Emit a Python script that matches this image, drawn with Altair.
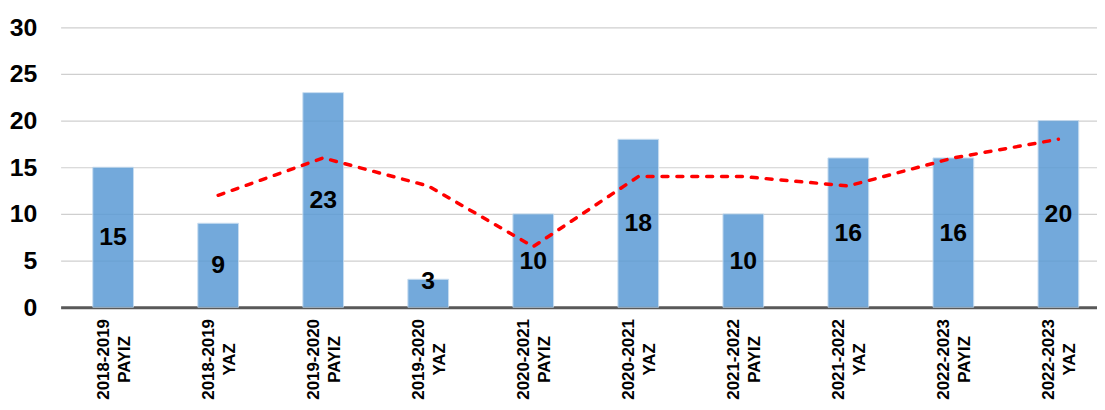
import altair as alt
import pandas as pd

years = ["2018-2019", "2018-2019", "2019-2020", "2019-2020", "2020-2021",
         "2020-2021", "2021-2022", "2021-2022", "2022-2023", "2022-2023"]
seasons = ["PAYIZ", "YAZ", "PAYIZ", "YAZ", "PAYIZ",
           "YAZ", "PAYIZ", "YAZ", "PAYIZ", "YAZ"]
values = [15, 9, 23, 3, 10, 18, 10, 16, 16, 20]
trend = [None, 12, 16, 13, 6.5, 14, 14, 13, 16, 18]

cats = [f"{y}|{s}" for y, s in zip(years, seasons)]
df = pd.DataFrame({"cat": cats, "value": values, "trend": trend})

FONT = "Liberation Sans"

x = alt.X(
    "cat:N", sort=cats,
    scale=alt.Scale(range=[0, 1058], paddingInner=0, paddingOuter=0),
    axis=alt.Axis(
        title=None, labelExpr="split(datum.label, '|')", labelAngle=270,
        labelAlign="center", labelBaseline="middle", labelPadding=52,
        labelOffset=-9.5,
        labelFont=FONT, labelFontSize=17, labelFontWeight="bold",
        labelColor="black", labelLineHeight=21, ticks=False,
        domainColor="#595959", domainWidth=3, grid=False,
    ),
)

y_axis = alt.Axis(
    values=[0, 5, 10, 15, 20, 25, 30], title=None, labelFont=FONT,
    labelFontSize=25, labelFontWeight="bold", labelColor="black",
    labelPadding=24, ticks=False, domain=False, gridColor="#cfcfcf",
    gridWidth=1.2,
)

base = alt.Chart(df)

bars = base.mark_bar(size=41, color="#5B9BD5", opacity=0.85,
                     stroke="#BDD7EE", strokeWidth=1).encode(
    x=x,
    y=alt.Y("value:Q", scale=alt.Scale(domain=[0, 30]), axis=y_axis),
)

line = base.mark_line(color="#FF0000", strokeWidth=3.5, strokeDash=[6, 9],
                      strokeCap="round").encode(
    x=x,
    y=alt.Y("trend:Q"),
)

text = base.transform_calculate(
    labelpos="max(datum.value / 2, 2.8)"
).mark_text(font=FONT, fontSize=25, fontWeight="bold", color="black",
            baseline="middle").encode(
    x=x,
    y=alt.Y("labelpos:Q"),
    text="value:Q",
)

chart = alt.layer(bars, line, text).properties(
    width=1044, height=282,
    autosize=alt.AutoSizeParams(type="none"),
    padding={"left": 53, "top": 18, "right": 0, "bottom": 94},
).configure_view(stroke=None)

chart.save("out.html", embed_options={"renderer": "svg", "actions": False})
